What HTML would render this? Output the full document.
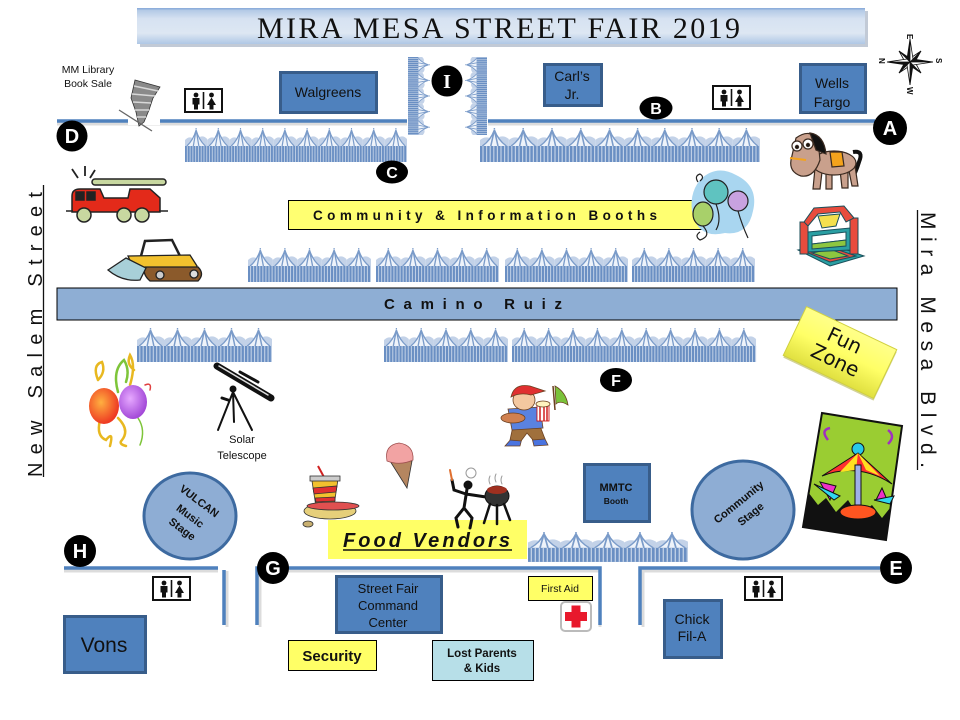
<!DOCTYPE html>
<html><head><meta charset="utf-8"><style>
html,body{margin:0;padding:0;background:#fff;}
svg{display:block;}
text{font-family:"Liberation Sans",sans-serif;fill:#111;}
</style></head><body>
<svg width="960" height="720" viewBox="0 0 960 720" xmlns="http://www.w3.org/2000/svg" xmlns:xlink="http://www.w3.org/1999/xlink">
<defs>
 <linearGradient id="ban" x1="0" y1="0" x2="0" y2="1">
  <stop offset="0" stop-color="#a9c3e3"/><stop offset="0.3" stop-color="#d6e2f1"/>
  <stop offset="0.7" stop-color="#dde7f3"/><stop offset="1" stop-color="#afc7e5"/>
 </linearGradient>
 <linearGradient id="fz" x1="0" y1="0" x2="0" y2="1">
  <stop offset="0" stop-color="#ffff8a"/><stop offset="0.5" stop-color="#ffff66"/><stop offset="1" stop-color="#e0e040"/>
 </linearGradient>
 <radialGradient id="rb" cx="0.4" cy="0.4" r="0.6">
  <stop offset="0" stop-color="#ffb040"/><stop offset="1" stop-color="#ee3a22"/>
 </radialGradient>
 <radialGradient id="pb" cx="0.4" cy="0.4" r="0.6">
  <stop offset="0" stop-color="#e6a8ff"/><stop offset="1" stop-color="#a44ad8"/>
 </radialGradient>
 <g id="tent">
  <path d="M0 12 Q4 8 8 10 Q12 5 16 9 Q20 7 24 11 L24 19 L0 19Z" fill="#c3d2e8"/>
  <path d="M12 2 Q9 12 2 18 L22 18 Q15 12 12 2Z" fill="#eef3fa"/>
  <path d="M12 2 Q9 12 2 18 M12 2 Q15 12 22 18 M12 2 L9 18 M12 2 L15 18" stroke="#7a9bc9" stroke-width="1.3" fill="none"/>
  <rect x="11.4" y="0" width="1.2" height="1.6" fill="#7f9fcb"/>
  <rect x="0" y="18" width="24" height="16" fill="#6a8fc3"/>
  <path d="M2.5 18V34M5.5 18V34M8.5 18V34M11.5 18V34M14.5 18V34M17.5 18V34M20.5 18V34M23.5 18V34" stroke="#c0d0e6" stroke-width="1"/>
 </g>
 <g id="t5">
  <use xlink:href="#tent" x="0"/><use xlink:href="#tent" x="24"/><use xlink:href="#tent" x="48"/><use xlink:href="#tent" x="72"/><use xlink:href="#tent" x="96"/>
 </g>
 <g id="wc">
  <rect x="1" y="1" width="37" height="23" fill="#fff" stroke="#111" stroke-width="2"/>
  <line x1="19.5" y1="4" x2="19.5" y2="21" stroke="#111" stroke-width="1.6"/>
  <circle cx="12" cy="7" r="2.4" fill="#111"/><path d="M8.5 10h7v6.5h-1.5v5h-4v-5h-1.5z" fill="#111"/>
  <circle cx="27.5" cy="7" r="2.4" fill="#111"/><path d="M27.5 9.5 L32 17 H29.5 V21.5 H25.5 V17 H23Z" fill="#111"/>
 </g>
</defs>

<!-- Title banner -->
<rect x="140" y="11" width="728" height="36" fill="#8f9fb5" opacity="0.55"/>
<rect x="137" y="8" width="728" height="36" fill="url(#ban)"/>
<rect x="137" y="8" width="728" height="1.5" fill="#8eaedb"/>
<text x="257" y="38" font-size="30" textLength="483" lengthAdjust="spacing" style="font-family:'Liberation Serif',serif">MIRA MESA STREET FAIR 2019</text>

<!-- Compass -->
<g stroke="#111" stroke-width="0.8">
 <path d="M910 62 L921 51 L916 60Z M910 62 L921 73 L912 67Z M910 62 L899 73 L904 64Z M910 62 L899 51 L908 57Z" fill="#111"/>
 <path d="M910 62 L921 51 L912 57Z M910 62 L921 73 L916 64Z M910 62 L899 73 L908 67Z M910 62 L899 51 L904 60Z" fill="#fff"/>
 <path d="M910 62 L910 39 L907 59Z M910 62 L933 62 L913 59Z M910 62 L910 85 L913 65Z M910 62 L887 62 L907 65Z" fill="#111"/>
 <path d="M910 62 L910 39 L913 59Z M910 62 L933 62 L913 65Z M910 62 L910 85 L907 65Z M910 62 L887 62 L907 59Z" fill="#fff"/>
</g>
<text transform="translate(907,34) rotate(90)" font-size="8" font-weight="bold">E</text>
<text transform="translate(936,58) rotate(90)" font-size="8" font-weight="bold">S</text>
<text transform="translate(907,87) rotate(90)" font-size="8" font-weight="bold">W</text>
<text transform="translate(879,58) rotate(90)" font-size="8" font-weight="bold">N</text>

<!-- street lines -->
<g stroke="#9a9a9a" stroke-width="3" opacity="0.35" fill="none">
 <path d="M57 124 H407 M488 124 H875"/>
 <path d="M64 571 H218 M227 571 V627 M260 627 V571 H600 V627 M643 627 V571 H880"/>
</g>
<g stroke="#4f81bd" stroke-width="3.5" fill="none">
 <path d="M57 121 H407 M488 121 H875"/>
 <path d="M64 568 H218 M224 570 V625 M257 625 V568 H600 V625 M640 625 V568 H880"/>
</g>

<!-- tents -->
<use xlink:href="#t5" transform="translate(185,128) scale(0.925,1)"/>
<use xlink:href="#t5" transform="translate(296,128) scale(0.925,1)"/>
<use xlink:href="#t5" transform="translate(480,128) scale(1.2,1)"/>
<use xlink:href="#t5" transform="translate(624,128) scale(1.133,1)"/>
<use xlink:href="#t5" transform="translate(248,248) scale(1.025,1)"/>
<use xlink:href="#t5" transform="translate(376,248) scale(1.025,1)"/>
<use xlink:href="#t5" transform="translate(505,248) scale(1.025,1)"/>
<use xlink:href="#t5" transform="translate(632,248) scale(1.025,1)"/>
<use xlink:href="#t5" transform="translate(137,328) scale(1.125,1)"/>
<use xlink:href="#t5" transform="translate(384,328) scale(1.033,1)"/>
<use xlink:href="#t5" transform="translate(512,328) scale(1.017,1)"/>
<use xlink:href="#t5" transform="translate(634,328) scale(1.017,1)"/>
<use xlink:href="#t5" transform="translate(528,532) scale(1.333,0.88)"/>
<use xlink:href="#t5" transform="translate(430,57) rotate(90) scale(0.65,0.647)"/>
<use xlink:href="#t5" transform="translate(465,135) rotate(-90) scale(0.65,0.647)"/>

<!-- Street names -->
<text transform="translate(42,477) rotate(-90)" font-size="20" textLength="285" lengthAdjust="spacing">New Salem Street</text>
<line x1="43.5" y1="185" x2="43.5" y2="477" stroke="#111" stroke-width="1.3"/>
<text transform="translate(921,212) rotate(90)" font-size="21" textLength="256" lengthAdjust="spacing">Mira Mesa Blvd.</text>
<line x1="917.5" y1="210" x2="917.5" y2="470" stroke="#111" stroke-width="1.3"/>

<!-- Camino Ruiz -->
<rect x="57" y="288" width="840" height="32" fill="#8eaed4" stroke="#000" stroke-width="1"/>
<text x="384" y="309" font-size="15" font-weight="bold" textLength="178" lengthAdjust="spacing">Camino Ruiz</text>

<!-- Community & Information booths -->
<rect x="288.5" y="200.5" width="425" height="29" fill="#ffff71" stroke="#000" stroke-width="1"/>
<text x="313" y="220" font-size="13.5" font-weight="bold" textLength="344" lengthAdjust="spacing">Community &amp; Information Booths</text>

<!-- Blue boxes -->
<g fill="#4f81bd" stroke="#385d8a" stroke-width="3">
 <rect x="280.5" y="72.5" width="96" height="40"/>
 <rect x="544.5" y="64.5" width="57" height="41"/>
 <rect x="800.5" y="64.5" width="65" height="48"/>
 <rect x="584.5" y="464.5" width="65" height="57"/>
 <rect x="336.5" y="576.5" width="105" height="56"/>
 <rect x="64.5" y="616.5" width="81" height="56"/>
 <rect x="664.5" y="600.5" width="57" height="57"/>
</g>
<text x="328" y="97" font-size="14" text-anchor="middle">Walgreens</text>
<text x="572" y="81" font-size="14" text-anchor="middle">Carl’s</text>
<text x="572" y="99" font-size="14" text-anchor="middle">Jr.</text>
<text x="832" y="88" font-size="14" text-anchor="middle">Wells</text>
<text x="832" y="107" font-size="14" text-anchor="middle">Fargo</text>
<text x="616" y="491" font-size="11" font-weight="bold" text-anchor="middle">MMTC</text>
<text x="616" y="504" font-size="8.5" font-weight="bold" text-anchor="middle">Booth</text>
<text x="388" y="593" font-size="13" text-anchor="middle">Street Fair</text>
<text x="388" y="610" font-size="13" text-anchor="middle">Command</text>
<text x="388" y="627" font-size="13" text-anchor="middle">Center</text>
<text x="104" y="652" font-size="21" text-anchor="middle">Vons</text>
<text x="692" y="624" font-size="14" text-anchor="middle">Chick</text>
<text x="692" y="641" font-size="14" text-anchor="middle">Fil-A</text>

<!-- Yellow small boxes -->
<rect x="288.5" y="640.5" width="88" height="30" fill="#ffff66" stroke="#000" stroke-width="1"/>
<text x="332" y="661" font-size="15" font-weight="bold" text-anchor="middle">Security</text>
<rect x="528.5" y="576.5" width="64" height="24" fill="#ffff66" stroke="#000" stroke-width="1"/>
<text x="560" y="592" font-size="10.5" text-anchor="middle">First Aid</text>
<rect x="432.5" y="640.5" width="101" height="40" fill="#b7dfe8" stroke="#000" stroke-width="1"/>
<text x="482" y="657" font-size="11.5" font-weight="bold" text-anchor="middle">Lost Parents</text>
<text x="482" y="672" font-size="11.5" font-weight="bold" text-anchor="middle">&amp; Kids</text>

<!-- Food Vendors -->
<rect x="328" y="520" width="199" height="39" fill="#ffff66"/>
<text x="343" y="547" font-size="20" font-weight="bold" font-style="italic" textLength="167" lengthAdjust="spacing">Food Vendors</text>
<line x1="343" y1="550" x2="512" y2="550" stroke="#111" stroke-width="1.6"/>

<!-- Red cross -->
<rect x="561" y="602" width="30" height="29" rx="4" fill="#fff" stroke="#bbb" stroke-width="2"/>
<rect x="565" y="612" width="22" height="9" fill="#e8192c"/>
<rect x="571.5" y="605.5" width="9" height="22" fill="#e8192c"/>

<!-- Restrooms -->
<use xlink:href="#wc" x="184" y="88"/>
<use xlink:href="#wc" x="712" y="85"/>
<use xlink:href="#wc" x="152" y="576"/>
<use xlink:href="#wc" x="744" y="576"/>

<!-- Stages -->
<ellipse cx="190" cy="516" rx="46" ry="43" fill="#8eadd4" stroke="#3d6aa0" stroke-width="3"/>
<text transform="translate(197,504) rotate(37)" font-size="11" font-weight="bold" text-anchor="middle">VULCAN</text>
<text transform="translate(188,519) rotate(37)" font-size="11" font-weight="bold" text-anchor="middle">Music</text>
<text transform="translate(180,532) rotate(37)" font-size="11" font-weight="bold" text-anchor="middle">Stage</text>
<ellipse cx="743" cy="510" rx="51" ry="49" fill="#8eadd4" stroke="#3d6aa0" stroke-width="3"/>
<text transform="translate(741,505) rotate(-39)" font-size="11" font-weight="bold" text-anchor="middle">Community</text>
<text transform="translate(753,517) rotate(-39)" font-size="11" font-weight="bold" text-anchor="middle">Stage</text>

<!-- Fun Zone -->
<g transform="translate(840,352.5) rotate(25.5)">
 <rect x="-49" y="-25" width="100" height="54" fill="#a8a830" opacity="0.5"/>
 <rect x="-50" y="-27" width="100" height="54" fill="url(#fz)" stroke="#d0d040" stroke-width="1"/>
 <text x="-1" y="-6" font-size="20" text-anchor="middle" style="font-family:'DejaVu Sans',sans-serif">Fun</text>
 <text x="-1" y="16" font-size="20" text-anchor="middle" style="font-family:'DejaVu Sans',sans-serif">Zone</text>
</g>

<!-- Labels -->
<text x="88" y="73" font-size="10.5" text-anchor="middle">MM Library</text>
<text x="88" y="87" font-size="10.5" text-anchor="middle">Book Sale</text>
<text x="242" y="443" font-size="11" text-anchor="middle">Solar</text>
<text x="242" y="459" font-size="11" text-anchor="middle">Telescope</text>

<!-- Book tornado -->
<rect x="128" y="116" width="32" height="9" fill="#fff"/>
<g stroke="#333" stroke-width="0.8">
 <path d="M135 80 L160 87 L153 98 L149 110 L144 122 L139 126 L136 112 L131 98 Z" fill="#8a8a8a"/>
 <path d="M134 86 L158 91 M132 94 L155 96 M133 102 L151 103 M135 110 L149 110 M137 117 L146 117" stroke="#d8d8d8" stroke-width="1.5"/>
 <path d="M119 110 L152 131" stroke="#666" stroke-width="1.3"/>
</g>

<!-- Fire truck -->
<g stroke="#222" stroke-width="1.5">
 <rect x="92" y="179" width="74" height="6" rx="3" fill="#c8d8a0"/>
 <path d="M72 212 V196 Q72 189 80 189 H100 L104 198 H128 L130 189 H150 L160 198 V212Z" fill="#e32a1a"/>
 <rect x="76" y="192" width="8" height="8" fill="#222"/>
 <rect x="87" y="192" width="8" height="8" fill="#222"/>
 <line x1="66" y1="211" x2="73" y2="211"/><line x1="159" y1="211" x2="168" y2="211"/>
 <path d="M72 169 L78 178 M85 166 L85 176 M95 170 L90 178" fill="none" stroke-width="1.8"/>
 <circle cx="84" cy="215" r="7" fill="#c8d8a0"/>
 <circle cx="124" cy="215" r="7" fill="#c8d8a0"/>
 <circle cx="142" cy="215" r="7" fill="#c8d8a0"/>
</g>

<!-- Bulldozer -->
<g stroke="#222" stroke-width="1.3">
 <path d="M141 256 L145 241 L172 240 L180 256" fill="none" stroke-width="2.5"/>
 <path d="M128 256 L190 255 L197 266 L195 272 L135 272 Z" fill="#f2c12e"/>
 <path d="M145 267 L198 267 Q205 274 198 281 L150 281 Q142 274 145 267Z" fill="#8b5a2b"/>
 <circle cx="194" cy="274" r="4" fill="#ddd"/>
 <circle cx="160" cy="275" r="4" fill="#ccc"/>
 <path d="M108 270 L126 258 L146 268 L140 280 Q122 282 108 270Z" fill="#a8d0d8"/>
</g>

<!-- Horse -->
<g stroke="#3a2a20" stroke-width="1.2">
 <path d="M853 152 Q864 150 859 162 Q856 172 852 178" fill="none" stroke="#111" stroke-width="4"/>
 <path d="M815 168 L813 189 L820 189 L822 172Z M826 170 L826 189 L832 189 L832 172Z M840 170 L842 188 L848 188 L848 170Z M848 166 L852 186 L858 186 L855 166Z" fill="#c9a08c"/>
 <ellipse cx="834" cy="163" rx="22" ry="12" fill="#c9a08c"/>
 <path d="M830 152 L842 152 L844 166 L832 167Z" fill="#f4a31c"/>
 <path d="M796 138 Q810 128 818 140 L820 160 Q814 178 801 176 Q789 172 791 160 Z" fill="#c9a08c"/>
 <path d="M810 133 Q824 135 826 154 L816 150Z" fill="#111"/>
 <circle cx="797" cy="146" r="5" fill="#fff"/><circle cx="808" cy="144" r="5" fill="#fff"/>
 <circle cx="797" cy="147" r="1.6" fill="#111"/><circle cx="808" cy="145" r="1.6" fill="#111"/>
 <path d="M790 158 L806 160" stroke="#f4a31c" stroke-width="2"/>
</g>

<!-- Balloons top right -->
<path d="M700 180 Q716 164 736 175 Q759 186 753 211 Q748 236 725 233 Q700 239 693 216 Q688 195 700 180Z" fill="#a9d6f0"/>
<g stroke="#222" stroke-width="1.2">
 <circle cx="716" cy="192" r="12" fill="#5fc3c0"/>
 <circle cx="738" cy="201" r="10" fill="#c8a2e0"/>
 <ellipse cx="703" cy="214" rx="10" ry="12" fill="#a8d06a"/>
 <path d="M703 226 Q712 236 700 240 Q694 236 700 232 M716 204 Q722 220 716 230 M738 211 Q742 225 748 238" fill="none"/>
 <path d="M698 182 Q694 176 700 174 Q705 177 700 181" fill="none"/>
</g>

<!-- Bouncy castle -->
<g stroke="#1a4f5a" stroke-width="1">
 <path d="M798 250 L830 244 L864 256 L830 266 Z" fill="#2a9fa3"/>
 <path d="M806 252 L830 247 L856 256 L830 262 Z" fill="#e84c3d"/>
 <path d="M812 253 L830 249 L848 256 L830 259 Z" fill="#8dc63f"/>
 <rect x="800" y="222" width="8" height="32" fill="#e84c3d"/>
 <rect x="850" y="218" width="8" height="36" fill="#e84c3d"/>
 <path d="M808 232 L850 228 L850 250 L808 252Z" fill="#2a9fa3"/>
 <path d="M812 236 L846 232 L846 240 L812 244Z" fill="#fff"/>
 <path d="M812 244 L846 240 L846 246 L812 249Z" fill="#8dc63f"/>
 <path d="M804 222 L814 208 L844 206 L854 218 L846 222 L840 212 L818 214 L808 226Z" fill="#e84c3d"/>
 <path d="M818 216 L840 214 L836 226 L822 228Z" fill="#f4e04d"/>
</g>

<!-- Balloons left -->
<g stroke-width="2.5" fill="none" stroke-linecap="round">
 <path d="M98 380 Q92 365 102 362 Q106 372 98 380" stroke="#e8b820"/>
 <path d="M118 392 Q112 370 124 360 Q130 370 126 382" stroke="#7ec53a"/>
 <path d="M130 385 Q136 365 130 355 Q126 364 134 370" stroke="#e8b820"/>
 <path d="M100 420 Q96 436 106 440 Q114 430 110 446" stroke="#e8b820"/>
 <path d="M118 418 Q130 430 122 440 Q118 444 126 446" stroke="#e8b820"/>
 <path d="M138 418 Q146 430 140 445" stroke="#7ec53a" stroke-width="1.5"/>
 <path d="M145 385 Q152 382 150 390" stroke="#e04040" stroke-width="1.5"/>
</g>
<ellipse cx="104" cy="406" rx="15" ry="18" fill="url(#rb)"/>
<ellipse cx="133" cy="402" rx="14" ry="17" fill="url(#pb)"/>

<!-- Telescope -->
<g stroke="#111" fill="none" stroke-linecap="round">
 <path d="M217 366 L271 398" stroke-width="7"/>
 <path d="M219 366 L268 395" stroke="#ddd" stroke-width="1.5"/>
 <path d="M240 372 L258 382" stroke-width="3"/>
 <path d="M233 392 L218 430 M233 392 L252 430 M233 392 L234 422" stroke-width="2"/>
 <circle cx="233" cy="389" r="3" fill="#111"/>
 <path d="M222 398 L228 400" stroke-width="3"/>
</g>

<!-- Boy with popcorn -->
<g stroke="#6b4020" stroke-width="0.8">
 <path d="M553 386 L555 410" stroke="#6b4020" stroke-width="1.5"/>
 <path d="M555 386 Q566 392 568 405 Q560 400 556 404Z" fill="#7ac23a"/>
 <path d="M512 438 L522 438 L520 446 L505 446Z M532 438 L544 437 L548 445 L534 446Z" fill="#4a74e0"/>
 <path d="M513 426 L540 426 L545 439 L533 440 L527 433 L521 441 L510 440Z" fill="#a0703c"/>
 <path d="M508 409 L540 407 L543 428 L512 430Z" fill="#5a82e0"/>
 <ellipse cx="524" cy="400" rx="11" ry="10" fill="#f4c8a0"/>
 <path d="M511 397 Q514 383 530 386 L545 391 L531 395 Q520 392 511 397Z" fill="#e03030"/>
 <ellipse cx="513" cy="418" rx="12" ry="5" fill="#d08050"/>
 <rect x="537" y="405" width="12" height="16" fill="#fff" stroke="#c00"/>
 <path d="M540 405 V421 M544 405 V421 M547 405 V421" stroke="#d02020" stroke-width="1.5"/>
 <ellipse cx="543" cy="404" rx="7" ry="3" fill="#fff3c0"/>
</g>

<!-- Ice cream -->
<path d="M390 461 L412 461 L407 488Z" fill="#b58660" stroke="#333" stroke-width="0.8"/>
<path d="M387 461 Q384 445 399 443 Q414 445 413 460 Q400 466 387 461Z" fill="#f2a3a3" stroke="#a05050" stroke-width="0.8"/>

<!-- Hot dog and drink -->
<g stroke="#333" stroke-width="0.8">
 <line x1="318" y1="466" x2="325" y2="479" stroke="#d02020" stroke-width="2"/>
 <path d="M312 481 L338 479 L334 506 L316 507Z" fill="#f2c12e"/>
 <path d="M313 488 L337 486 L336 492 L314 494Z M315 498 L335 497 L335 501 L316 502Z" fill="#e03030"/>
 <rect x="310" y="476" width="30" height="5" fill="#ccc"/>
 <ellipse cx="330" cy="511" rx="26" ry="8" fill="#e6cf7a"/>
 <ellipse cx="333" cy="506" rx="26" ry="4" fill="#e05050"/>
 <ellipse cx="308" cy="524" rx="5" ry="3" fill="#c9b070"/>
</g>

<!-- BBQ chef -->
<g stroke="#111" fill="none" stroke-linecap="round">
 <circle cx="471" cy="473" r="5" fill="#fff" stroke="#999"/>
 <circle cx="468" cy="485" r="4" fill="#111"/>
 <path d="M467 489 L464 508 L456 518 L458 527 M464 508 L472 518 L470 528 M466 494 L454 490 L452 480 M466 494 L486 497" stroke-width="3"/>
 <path d="M452 480 L450 470" stroke="#e07030" stroke-width="2"/>
 <ellipse cx="497" cy="496" rx="12" ry="10" fill="#333"/>
 <ellipse cx="497" cy="490" rx="10" ry="4" fill="#a03020" stroke="none"/>
 <path d="M490 504 L484 523 M497 505 L497 524 M504 504 L510 520" stroke-width="2.5"/>
 <path d="M490 484 Q488 480 490 476 M496 482 Q494 478 496 474 M502 484 Q500 480 502 476" stroke="#999" stroke-width="1"/>
</g>

<!-- Carousel picture -->
<g>
 <path d="M822 413 L902 426 L886 540 L803 527Z" fill="#9acd32" stroke="#111" stroke-width="2"/>
 <path d="M808 492 L818 505 L826 498 L836 512 L848 500 L858 516 L872 505 L882 518 L890 508 L886 540 L803 527Z" fill="#111"/>
 <circle cx="858" cy="449" r="6" fill="#28c8e8" stroke="#111"/>
 <path d="M858 453 L822 476 Q858 462 892 484Z" fill="#ff3030" stroke="#111"/>
 <path d="M858 453 L840 472 L856 470Z M858 453 L866 470 L880 476Z" fill="#ffe020"/>
 <rect x="855" y="465" width="6" height="40" fill="#9fb0e8" stroke="#111"/>
 <path d="M820 482 L830 500 L836 486Z M882 488 L888 502 L876 500Z" fill="#ee30c8" stroke="#111"/>
 <path d="M814 484 L834 500 L840 496Z M874 500 L894 496 L890 504Z" fill="#30d8f0" stroke="#111"/>
 <ellipse cx="858" cy="512" rx="18" ry="7" fill="#ff5520" stroke="#111"/>
 <path d="M828 440 Q820 430 830 428 M888 444 Q896 436 888 430" stroke="#a030c0" stroke-width="2.5" fill="none"/>
</g>

<!-- Letter markers -->
<g fill="#000">
 <circle cx="72" cy="136" r="15.5"/>
 <circle cx="447" cy="81" r="15.5"/>
 <ellipse cx="656" cy="108" rx="16.5" ry="11.5"/>
 <circle cx="890" cy="128" r="17"/>
 <ellipse cx="392" cy="172" rx="16" ry="11.5"/>
 <ellipse cx="616" cy="380" rx="16" ry="12"/>
 <circle cx="80" cy="551" r="16"/>
 <circle cx="273" cy="568" r="16"/>
 <circle cx="896" cy="568" r="16"/>
</g>
<g font-weight="bold" text-anchor="middle">
 <text x="72" y="143" font-size="20" style="fill:#fff">D</text>
 <text x="447" y="88" font-size="20" style="fill:#fff;font-family:'Liberation Serif',serif">I</text>
 <text x="656" y="114" font-size="16" style="fill:#fff">B</text>
 <text x="890" y="135" font-size="20" style="fill:#fff">A</text>
 <text x="392" y="178" font-size="16" style="fill:#fff">C</text>
 <text x="616" y="386" font-size="16" style="fill:#fff">F</text>
 <text x="80" y="558" font-size="20" style="fill:#fff">H</text>
 <text x="273" y="575" font-size="20" style="fill:#fff">G</text>
 <text x="896" y="575" font-size="20" style="fill:#fff">E</text>
</g>
</svg>
</body></html>
